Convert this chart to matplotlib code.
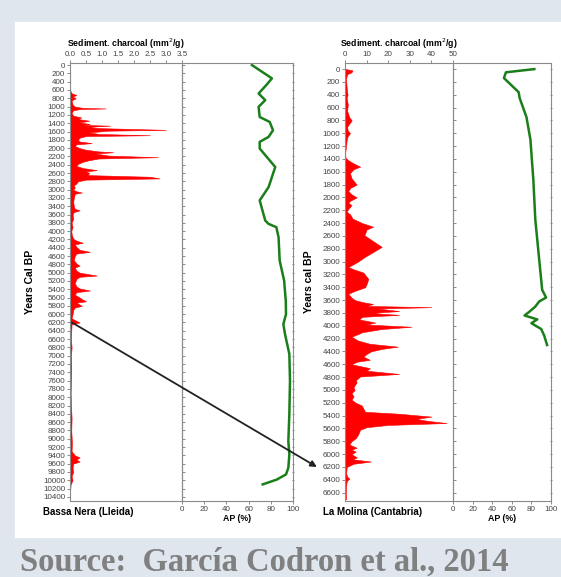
import matplotlib.pyplot as plt
from matplotlib.patches import Rectangle, ConnectionPatch

plt.rcParams['font.family'] = ['Liberation Sans', 'DejaVu Sans']

# Bassa Nera (Lleida) - sediment charcoal (mm2/g)
bn_years = [0, 600, 680, 720, 760, 800, 850, 950, 1000, 1030, 1045, 1060, 1090, 1150,
            1220, 1260, 1300, 1340, 1380, 1420, 1440, 1460, 1490, 1520, 1560, 1580,
            1620, 1660, 1690, 1710, 1750, 1800, 1840, 1880, 1910, 1950, 2000, 2040,
            2080, 2100, 2130, 2180, 2220, 2250, 2290, 2330, 2380, 2430, 2480, 2530,
            2560, 2600, 2650, 2690, 2730, 2760, 2800, 2850, 2900, 2950, 3000, 3040,
            3070, 3100, 3200, 3300, 3400, 3460, 3500, 3540, 3600, 3700, 3800, 3900,
            4000, 4100, 4180, 4230, 4280, 4320, 4380, 4450, 4500, 4540, 4600, 4700,
            4780, 4830, 4880, 4950, 5000, 5070, 5100, 5150, 5250, 5330, 5380, 5430,
            5470, 5530, 5600, 5650, 5690, 5720, 5800, 5840, 5900, 6000, 6100, 6200,
            6240, 6400, 6600, 6800, 7000, 7300, 7600, 7900, 8200, 8500, 8800, 9100,
            9300, 9400, 9450, 9500, 9550, 9600, 9700, 9800, 9900, 10000, 10100, 10300]
bn_charcoal = [0, 0, 0.05, 0.2, 0.08, 0.18, 0.05, 0.08, 0.15, 0.4, 1.12, 0.3, 0.1, 0.05,
               0.1, 0.35, 0.25, 0.6, 0.3, 0.62, 0.4, 1.25, 0.5, 1.0, 3.0, 1.2,
               0.6, 0.9, 2.5, 0.5, 0.3, 0.25, 0.3, 0.68, 0.2, 0.15, 0.3, 0.5,
               0.9, 1.35, 0.8, 1.2, 2.75, 0.9, 0.6, 0.4, 0.25, 0.2, 0.4, 0.84,
               0.5, 0.6, 0.55, 2.5, 2.8, 0.5, 0.25, 0.2, 0.12, 0.15, 0.1, 0.2,
               0.37, 0.15, 0.12, 0.1, 0.12, 0.15, 0.3, 0.12, 0.08, 0.1, 0.05, 0.08,
               0.04, 0.06, 0.1, 0.2, 0.4, 0.15, 0.2, 0.3, 0.62, 0.2, 0.15, 0.12,
               0.2, 0.3, 0.15, 0.2, 0.3, 0.84, 0.3, 0.2, 0.15, 0.2, 0.3, 0.62,
               0.2, 0.15, 0.3, 0.4, 0.5, 0.2, 0.37, 0.15, 0.1, 0.08, 0.05, 0.3,
               0.05, 0.04, 0.03, 0.05, 0.03, 0.04, 0.03, 0.02, 0.03, 0.05, 0.04, 0.06,
               0.05, 0.15, 0.3, 0.2, 0.3, 0.1, 0.08, 0.1, 0.05, 0.08, 0.02, 0]

# Bassa Nera - arboreal pollen AP (%)
bn_ap_years = [0, 320, 480, 685, 845, 1005, 1250, 1370, 1570, 1730, 1850, 2010, 2455,
               2940, 3260, 3745, 3825, 3905, 4150, 4710, 5190, 5680, 6000, 6240, 6480,
               6960, 7600, 8410, 9060, 9380, 9700, 9860, 9985, 10100]
bn_ap = [63, 81, 76, 69, 75, 69, 70, 79, 82, 78, 70, 70, 84,
         78, 70, 75, 78, 85, 87, 88, 92, 93.5, 93.7, 91.3, 92.8,
         96.7, 97.3, 96.7, 95.8, 96.7, 95.8, 93.7, 85.3, 72.7]

# La Molina (Cantabria) - sediment charcoal (mm2/g)
lm_years = [0, 20, 50, 80, 150, 300, 400, 450, 550, 650, 750, 800, 850, 900, 950, 1000,
            1050, 1100, 1200, 1300, 1380, 1420, 1470, 1520, 1560, 1620, 1700, 1800,
            1850, 1900, 1950, 2000, 2050, 2080, 2120, 2180, 2220, 2270, 2330, 2400,
            2456, 2500, 2590, 2680, 2770, 2850, 2930, 3000, 3085, 3120, 3170, 3270,
            3350, 3400, 3450, 3500, 3560, 3600, 3630, 3660, 3690, 3710, 3730, 3770,
            3800, 3830, 3860, 3900, 3950, 3980, 4015, 4050, 4100, 4130, 4170, 4230,
            4280, 4325, 4360, 4400, 4440, 4480, 4530, 4560, 4600, 4660, 4700, 4750,
            4790, 4850, 4880, 4960, 5000, 5050, 5100, 5150, 5200, 5240, 5290, 5340,
            5370, 5415, 5450, 5480, 5515, 5545, 5580, 5620, 5700, 5750, 5800, 5850,
            5900, 5930, 5960, 6000, 6050, 6080, 6115, 6150, 6200, 6300, 6350, 6380,
            6420, 6500, 6600, 6700]
lm_charcoal = [0.5, 3.5, 3, 1, 0.5, 0.8, 1.2, 0.8, 1.3, 1, 2, 3.1, 2, 1, 1.2, 2.3,
               1.2, 0.8, 0.5, 0.1, 0.2, 1.5, 4, 7, 4, 2.3, 3, 5.4,
               2.5, 1.5, 3, 5.4, 2.5, 1.5, 3, 1.5, 0.8, 2.5, 3.5, 8,
               13, 10, 9, 13, 17, 13, 9, 6, 1.5, 4, 8.5, 10.8,
               10, 9.3, 5, 1.5, 3, 4.6, 8, 13, 10, 40, 15, 25,
               12, 25, 8, 6.5, 14, 10, 30.8, 17, 8, 6, 3, 6,
               11.5, 24.5, 17, 12, 10, 8.5, 11.5, 5.5, 3, 11.5, 10, 25,
               7, 5, 5.4, 3.9, 4.5, 3, 4, 3, 5, 7.7, 8.5, 9.3,
               25, 40, 33, 38, 47, 20, 10, 7, 6, 5, 3, 2,
               5.4, 3, 5, 3, 5.5, 3.5, 12, 3.9, 0.8, 0.5, 1, 2,
               0.8, 0.5, 0.4, 0.5]

# La Molina - AP (%)
lm_ap_years = [0, 50, 140, 360, 450, 750, 1100, 1730, 2350, 2975, 3440, 3560, 3620,
               3700, 3780, 3840, 3900, 3960, 4050, 4150, 4300]
lm_ap = [83, 54, 52, 67, 68, 75, 79, 82, 84, 88, 91, 95, 88,
         84, 78, 73, 86, 80, 90, 93, 96]

bn_ticks = list(range(0, 10401, 200))
lm_ticks = list(range(0, 6601, 200))
charcoal_bn_ticks = [0, 0.5, 1, 1.5, 2, 2.5, 3, 3.5]
charcoal_lm_ticks = [0, 10, 20, 30, 40, 50]
ap_ticks = [0, 20, 40, 60, 80, 100]

W, H = 561, 577
fig = plt.figure(figsize=(W / 100, H / 100), dpi=100)
fig.patch.set_facecolor('#dfe6ee')
fig.add_artist(Rectangle((15 / W, 1 - 537 / H), (W - 15) / W, (537 - 22) / H,
                         transform=fig.transFigure, color='white', zorder=0))


def make_ax(x0, x1, y0=63, y1=501):
    return fig.add_axes([x0 / W, 1 - y1 / H, (x1 - x0) / W, (y1 - y0) / H])


ax1 = make_ax(70, 182)
ax2 = make_ax(182, 293)
ax3 = make_ax(345, 453)
ax4 = make_ax(453, 551)

tick_kw = dict(labelsize=5.8, labelcolor='#444444', color='#777777', length=2, width=0.6, pad=1.5)

for ax in (ax1, ax2, ax3, ax4):
    for s in ax.spines.values():
        s.set_color('#8a8a8a')
        s.set_linewidth(0.8)
    ax.set_facecolor('none')

# charcoal panels
ax1.fill_betweenx(bn_years, 0, bn_charcoal, color='#ff0000', lw=0.4)
ax1.set_xlim(0, 3.5)
ax1.set_ylim(10500, -50)
ax1.set_xticks(charcoal_bn_ticks)
ax1.set_xticklabels(['%.1f' % v for v in charcoal_bn_ticks])
ax1.set_yticks(bn_ticks)
ax1.set_yticklabels([str(v) for v in bn_ticks])

ax3.fill_betweenx(lm_years, 0, lm_charcoal, color='#ff0000', lw=0.4)
ax3.set_xlim(0, 50)
ax3.set_ylim(6730, -95)
ax3.set_xticks(charcoal_lm_ticks)
ax3.set_yticks(lm_ticks)
ax3.set_yticklabels([str(v) for v in lm_ticks])

for ax in (ax1, ax3):
    ax.xaxis.tick_top()
    ax.tick_params(axis='x', **tick_kw)
    ax.tick_params(axis='y', left=True, right=True, direction='out', **tick_kw)
    ax.set_xlabel('Sediment. charcoal (mm$^2$/g)', fontsize=6.3, fontweight='bold', labelpad=3)
    ax.xaxis.set_label_position('top')

# AP panels
ax2.plot(bn_ap, bn_ap_years, color='#1a7f1a', lw=1.8)
ax2.set_ylim(ax1.get_ylim())
ax2.set_yticks(bn_ticks)
ax4.plot(lm_ap, lm_ap_years, color='#1a7f1a', lw=1.8)
ax4.set_ylim(ax3.get_ylim())
ax4.set_yticks(lm_ticks)
for ax in (ax2, ax4):
    ax.set_xlim(0, 100)
    ax.set_xticks(ap_ticks)
    ax.tick_params(axis='x', **tick_kw)
    ax.tick_params(axis='y', left=False, right=True, direction='inout', labelleft=False, **tick_kw)
    ax.set_xlabel('AP (%)', fontsize=6.3, fontweight='bold', labelpad=1)

ax1.set_ylabel('Years Cal BP', fontsize=7.5, fontweight='bold', labelpad=6)
ax3.set_ylabel('Years cal BP', fontsize=7.5, fontweight='bold', labelpad=6)

fig.text(43 / W, 1 - 512 / H, 'Bassa Nera (Lleida)', fontsize=7, fontweight='bold', va='center')
fig.text(323 / W, 1 - 512 / H, 'La Molina (Cantabria)', fontsize=7, fontweight='bold', va='center')

# arrow linking the 6200 BP levels
arrow = ConnectionPatch(xyA=(0.06, 6200), coordsA=ax1.transData,
                        xyB=(-13, 6200), coordsB=ax3.transData,
                        arrowstyle='-|>', mutation_scale=9, color='#222222', lw=1.3)
fig.add_artist(arrow)

fig.text(20 / W, 1 - 571 / H, 'Source:  García Codron et al., 2014', family='Liberation Serif',
         fontweight='bold', fontsize=23.5, color='#808080', va='baseline')

fig.savefig('out.png', dpi=100, facecolor=fig.get_facecolor())
